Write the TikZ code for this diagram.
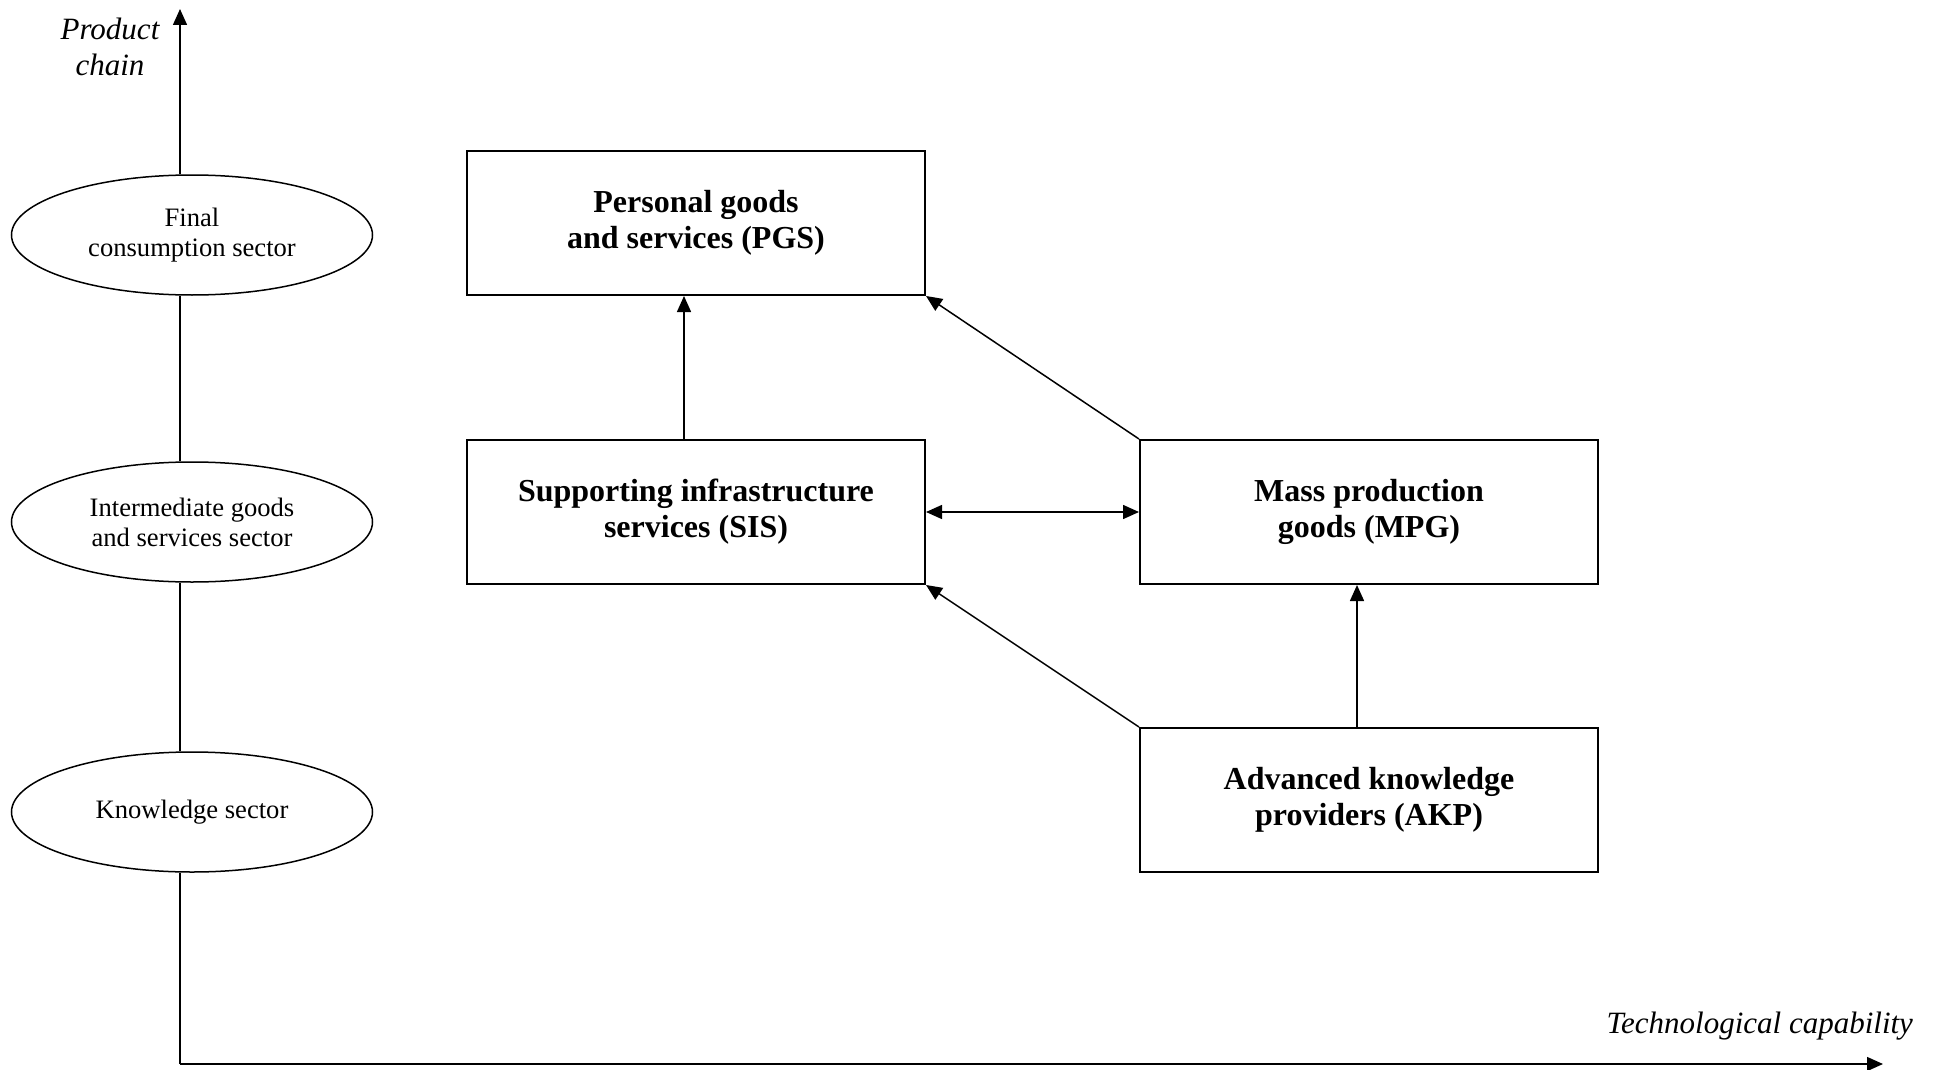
\documentclass[tikz,border=0pt]{standalone}
\usepackage{fontspec}
\setmainfont{Liberation Serif}
\usetikzlibrary{shapes.geometric,arrows.meta}
\begin{document}
\begin{tikzpicture}[x=0.5pt,y=-0.5pt,
  sector/.style={ellipse,draw,line width=0.75pt,fill=white,minimum width=180.5pt,minimum height=60pt,inner sep=0pt,align=center,font=\fontsize{13.3}{15}\selectfont},
  block/.style={rectangle,draw,line width=1pt,minimum width=229pt,minimum height=72pt,inner sep=0pt,align=center,font=\fontsize{16}{18}\selectfont\bfseries},
  link/.style={line width=0.75pt,-{Triangle[length=8pt,width=7pt]}},
  bilink/.style={line width=0.75pt,{Triangle[length=8pt,width=7pt]}-{Triangle[length=8pt,width=7pt]}},
  axislabel/.style={font=\fontsize{15.5}{18}\selectfont\itshape}]
\useasboundingbox(0,0)rectangle(1943,1070);
\coordinate(O)at(180,1064);
\coordinate(Ytop)at(180,9);
\coordinate(Xend)at(1883,1064);
% sectors on the product chain
\node[sector](FC)at(192,235){Final\\consumption sector};
\node[sector](IG)at(192,522){Intermediate goods\\and services sector};
\node[sector](KS)at(192,812){Knowledge sector};
% blocks
\node[block](PGS)at(696,223){Personal goods\\and services (PGS)};
\node[block](SIS)at(696,512){Supporting infrastructure\\services (SIS)};
\node[block](MPG)at(1369,512){Mass production\\goods (MPG)};
\node[block](AKP)at(1369,800){Advanced knowledge\\providers (AKP)};
% axes
\draw[line width=0.75pt](O)--(O|-KS.south);
\draw[line width=0.75pt](O|-KS.north)--(O|-IG.south);
\draw[line width=0.75pt](O|-IG.north)--(O|-FC.south);
\draw[link](O|-FC.north)--(Ytop);
\draw[link](O)--(Xend);
\node[axislabel,align=center](Ylab)at(110,47){Product\\chain};
\node[axislabel,anchor=base east](Xlab)at(1920,1033){Technological capability};
% links
\draw[link]([xshift=-6pt]SIS.north)--([xshift=-6pt]PGS.south);
\draw[link]([xshift=-6pt]AKP.north)--([xshift=-6pt]MPG.south);
\draw[link](MPG.north west)--(PGS.south east);
\draw[link](AKP.north west)--(SIS.south east);
\draw[bilink](SIS.east)--(MPG.west);
\end{tikzpicture}
\end{document}
